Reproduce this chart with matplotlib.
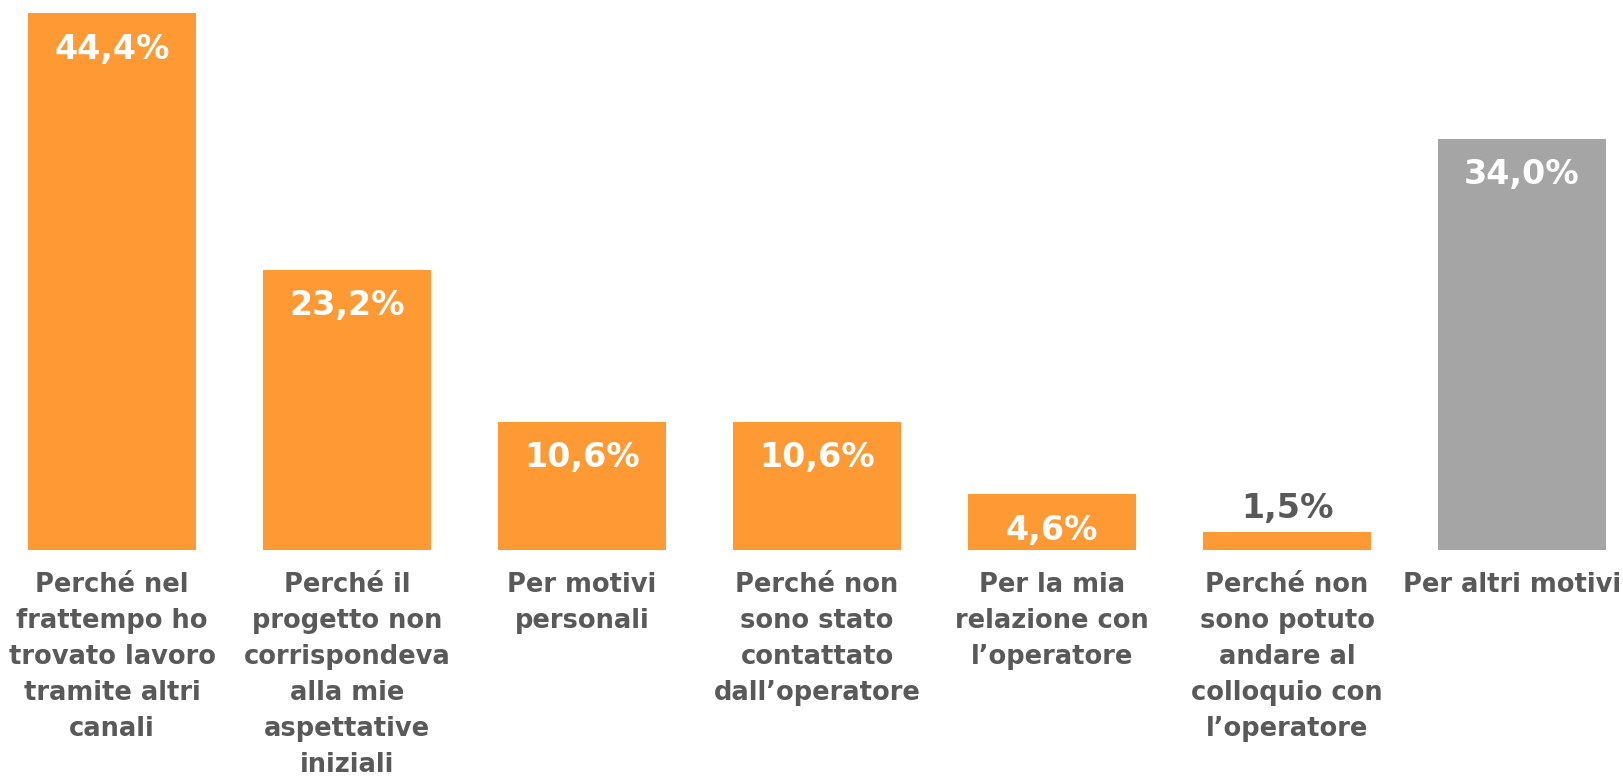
import matplotlib.pyplot as plt
import matplotlib.transforms as mtransforms

# -----------------------------
# Data
# -----------------------------
categories = [
    "Perché nel\nfrattempo ho\ntrovato lavoro\ntramite altri\ncanali",
    "Perché il\nprogetto non\ncorrispondeva\nalla mie\naspettative\niniziali",
    "Per motivi\npersonali",
    "Perché non\nsono stato\ncontattato\ndall’operatore",
    "Per la mia\nrelazione con\nl’operatore",
    "Perché non\nsono potuto\nandare al\ncolloquio con\nl’operatore",
    "Per altri motivi",
]
values = [44.4, 23.2, 10.6, 10.6, 4.6, 1.5, 34.0]
value_labels = ["44,4%", "23,2%", "10,6%", "10,6%", "4,6%", "1,5%", "34,0%"]

orange = "#FF9933"
grey = "#A5A5A5"
text_grey = "#595959"
colors = [orange] * 6 + [grey]

# -----------------------------
# Plot
# -----------------------------
fig = plt.figure(figsize=(16.23, 7.81), dpi=100)
ax = fig.add_axes([0, 231 / 781, 1, 550 / 781])

x = list(range(len(values)))
bars = ax.bar(x, values, width=0.715, color=colors)

ax.set_xlim(-112 / 235, (1623 - 112) / 235)
ax.set_ylim(0, 550 / 12.09)

for bar, v, lab in zip(bars, values, value_labels):
    cx = bar.get_x() + bar.get_width() / 2
    if v > 3:
        ax.annotate(lab, (cx, v), xytext=(0, -14), textcoords="offset points",
                    ha="center", va="top", color="white",
                    fontsize=24, fontweight="bold")
    else:
        ax.annotate(lab, (cx, v), xytext=(0, 5), textcoords="offset points",
                    ha="center", va="bottom", color=text_grey,
                    fontsize=24, fontweight="bold")

ax.set_xticks(x)
ax.set_xticklabels(categories, fontsize=18.5, fontweight="bold",
                   color=text_grey, linespacing=1.5)
ax.tick_params(axis="x", length=0, pad=16)

# last label sits close to the right edge, nudge it in
last = ax.get_xticklabels()[-1]
last.set_transform(last.get_transform() +
                   mtransforms.ScaledTranslation(-0.1, 0, fig.dpi_scale_trans))

ax.set_yticks([])
for s in ax.spines.values():
    s.set_visible(False)

plt.savefig("out.png", dpi=100)
